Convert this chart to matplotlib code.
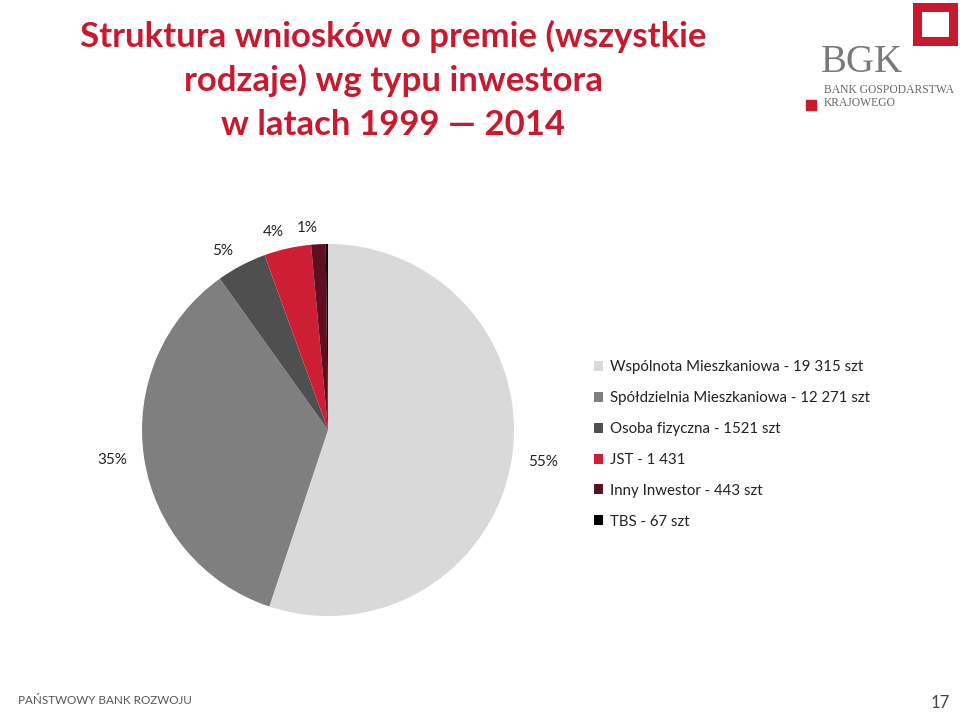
import matplotlib
matplotlib.use('Agg')
import matplotlib.pyplot as plt
from matplotlib.patches import Rectangle

plt.rcParams['font.family'] = ['Lato', 'DejaVu Sans']

# DATA
categories = ['Wspólnota Mieszkaniowa - 19 315 szt',
              'Spółdzielnia Mieszkaniowa - 12 271 szt',
              'Osoba fizyczna - 1521 szt',
              'JST - 1 431',
              'Inny Inwestor - 443 szt',
              'TBS - 67 szt']
counts = [19315, 12271, 1521, 1431, 443, 67]
pct_labels = ['55%', '35%', '5%', '4%', '1%', '']
colors = ['#d9d9d9', '#7f7f7f', '#4f4f4f', '#cc1f33', '#5e1020', '#000000']

title_lines = 'Struktura wniosków o premie (wszystkie\nrodzaje) wg typu inwestora\nw latach 1999 \u2014 2014'
red = '#c8192e'

fig = plt.figure(figsize=(9.6, 7.19), dpi=100)
W, H = 960, 719

# pie axes, centre ~ (328, 430) px, radius ~186 px
r = 186
ax = fig.add_axes([(328 - r) / W, (H - 430 - r) / H, 2 * r / W, 2 * r / H])
wedges, texts = ax.pie(counts, labels=pct_labels, colors=colors, startangle=90,
                       counterclock=False, labeldistance=1.09,
                       wedgeprops=dict(linewidth=0),
                       textprops=dict(fontsize=11, color='#222222'))
ax.set_xlim(-1, 1)
ax.set_ylim(-1, 1)
ax.set_aspect('equal')
ax.axis('off')

# legend
fig.legend(wedges, categories, loc='upper left',
           bbox_to_anchor=(586 / W, 1 - 353 / H), frameon=False,
           fontsize=10.8, handlelength=0.65, handleheight=0.65,
           handletextpad=0.45, labelspacing=1.12, borderpad=0,
           labelcolor='#222222')

# title
fig.text(393 / W, 1 - 80 / H, title_lines, ha='center', va='center',
         fontsize=25, fontweight='bold', color=red, linespacing=1.43)

# BGK logo
fig.patches.append(Rectangle((916.5 / W, 1 - 40.5 / H), 36 / W, 33 / H,
                             transform=fig.transFigure, fill=False,
                             edgecolor=red, linewidth=6.5))
fig.patches.append(Rectangle((806 / W, 1 - 110 / H), 10 / W, 10 / H,
                             transform=fig.transFigure, color=red))
fig.text(821 / W, 1 - 72 / H, 'BGK', fontsize=28, color='#7a7a7a',
         family='Liberation Serif', va='baseline', ha='left')
fig.text(824 / W, 1 - 93 / H, 'BANK GOSPODARSTWA', fontsize=8.4,
         color='#666666', family='Liberation Serif', va='baseline', ha='left')
fig.text(824 / W, 1 - 106 / H, 'KRAJOWEGO', fontsize=8.4,
         color='#666666', family='Liberation Serif', va='baseline', ha='left')

# footer
fig.text(18 / W, 1 - 700 / H, 'PAŃSTWOWY BANK ROZWOJU', fontsize=8.4,
         color='#555555', va='center', ha='left')
fig.text(950 / W, 1 - 703 / H, '17', fontsize=12, color='#444444',
         va='center', ha='right')

fig.savefig('out.png', dpi=100)
